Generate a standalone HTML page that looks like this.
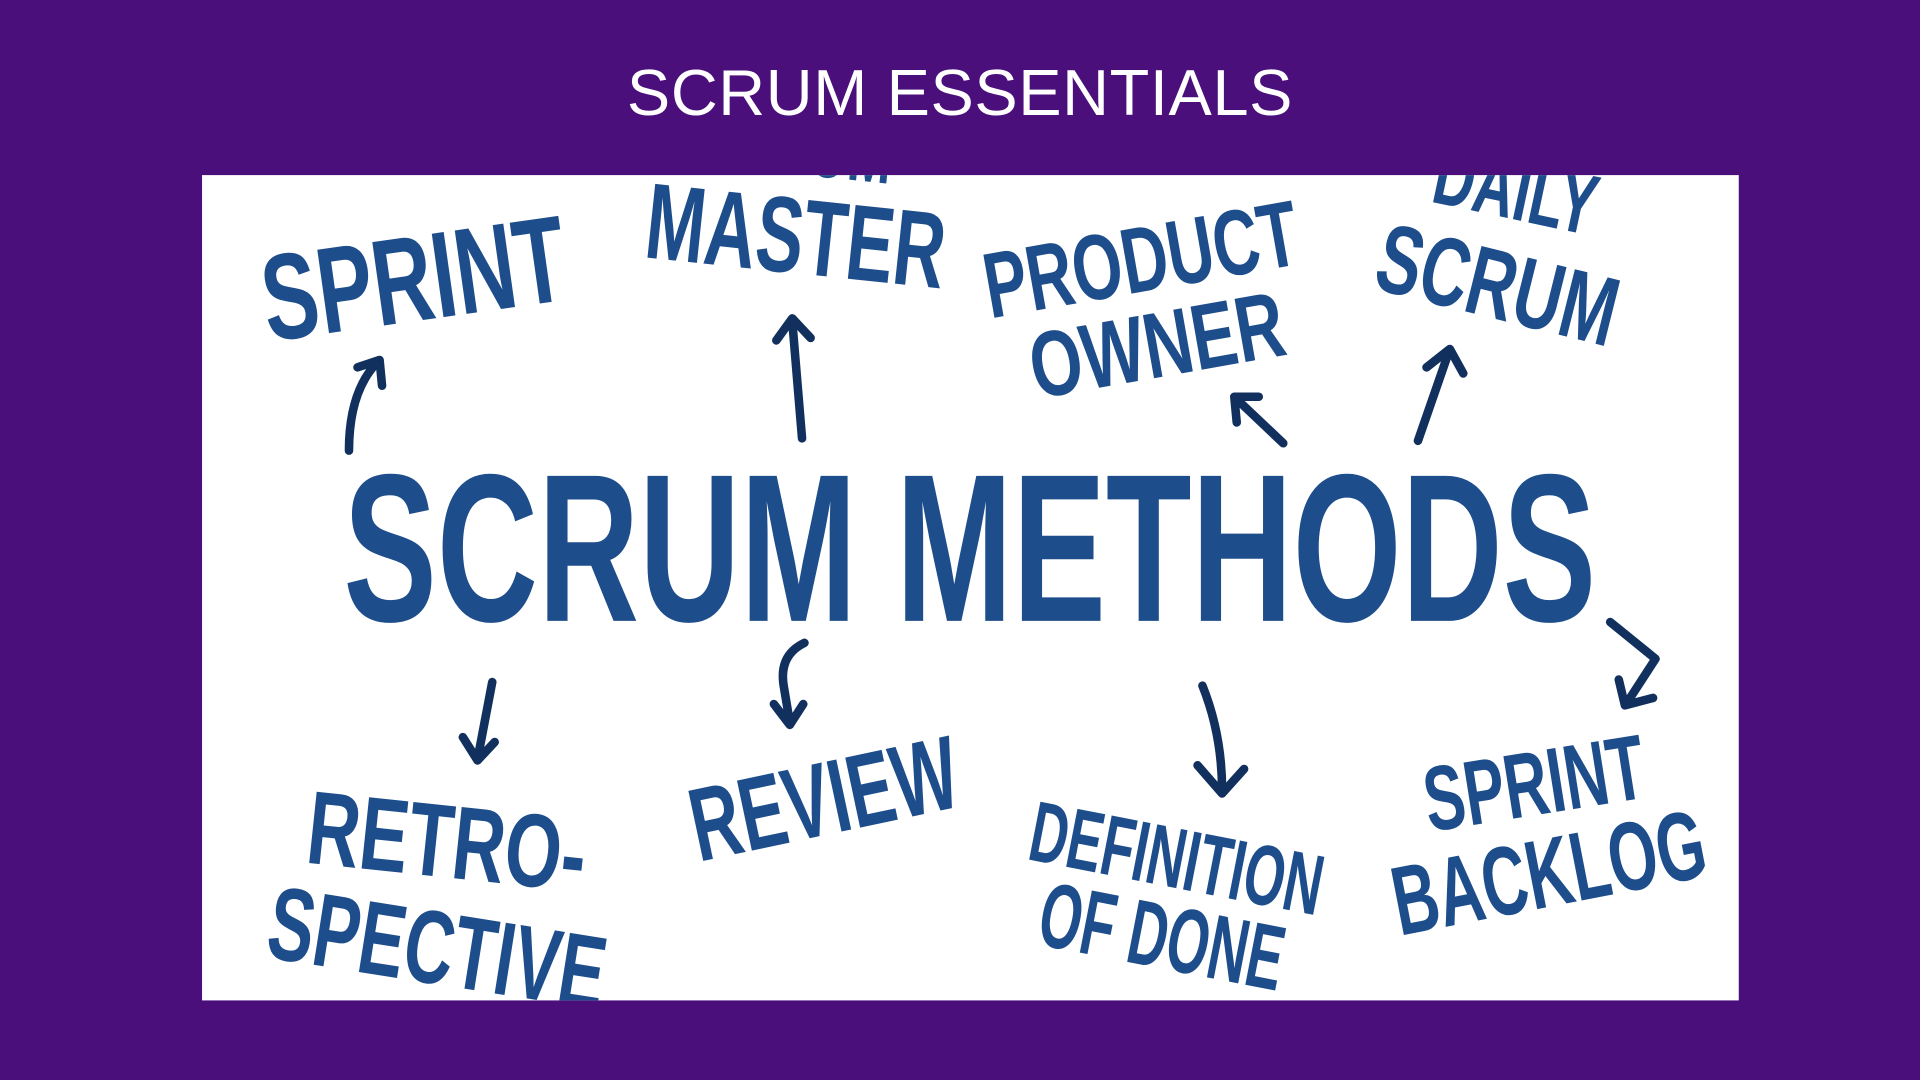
<!DOCTYPE html>
<html><head><meta charset="utf-8"><style>
html,body{margin:0;padding:0;width:1920px;height:1080px;overflow:hidden;background:#4a0f7b;}
#stage{position:absolute;left:0;top:0;width:1568px;height:882px;transform:scale(1.22449);transform-origin:0 0;}
#title{position:absolute;left:0;width:1568px;top:44px;text-align:center;color:#fff;font-family:"Liberation Sans",sans-serif;font-size:53px;line-height:66px;letter-spacing:0.5px;}
#panel{position:absolute;left:165px;top:143px;width:1255px;height:674px;background:#fff;overflow:hidden;}
.w{position:absolute;left:0;top:0;white-space:nowrap;color:#1e4d8c;font-family:"Liberation Sans",sans-serif;font-weight:bold;line-height:1;}
svg{position:absolute;left:0;top:0;}
</style></head><body>
<div id="stage">
<div id="title">SCRUM ESSENTIALS</div>
<div id="panel">
<svg width="1255" height="674">
<g stroke="#12305e" stroke-width="7" fill="none" stroke-linecap="round" stroke-linejoin="round" transform="translate(-165,-143)">
<path d="M285 368 Q285 320 308 296 M292 300 L310 294 L312 315"/>
<path d="M655 358 L647 262 M634 278 L647 260 L662 276"/>
<path d="M1048 362 L1010 326 M1010 345 L1008 324 L1028 324"/>
<path d="M1158 360 L1183 288 M1165 300 L1184 285 L1195 305"/>
<path d="M402 557 L390 620 M378 602 L390 621 L404 606"/>
<path d="M657 525 Q636 535 640 560 L645 590 M632 575 L645 592 L656 575"/>
<path d="M982 560 Q998 600 998 645 M978 625 L998 648 L1016 628"/>
<path d="M1315 508 L1352 538 L1328 575 M1322 555 L1327 576 L1350 570"/>
</g></svg>
<div class="w" style="font-size:100px;transform:translate(173px,85px) translate(-50%,-50%) rotate(-8deg) scaleX(0.68)">SPRINT</div>
<div class="w" style="font-size:70px;transform:translate(485px,-25px) translate(-50%,-50%) rotate(6deg) scaleX(0.62)">SCRUM</div>
<div class="w" style="font-size:88px;transform:translate(485px,50px) translate(-50%,-50%) rotate(6deg) scaleX(0.66)">MASTER</div>
<div class="w" style="font-size:76px;transform:translate(767px,70px) translate(-50%,-50%) rotate(-10deg) scaleX(0.69)">PRODUCT</div>
<div class="w" style="font-size:76px;transform:translate(780px,140px) translate(-50%,-50%) rotate(-10deg) scaleX(0.72)">OWNER</div>
<div class="w" style="font-size:70px;transform:translate(1073px,12px) translate(-50%,-50%) rotate(12deg) scaleX(0.66)">DAILY</div>
<div class="w" style="font-size:80px;transform:translate(1058px,90px) translate(-50%,-50%) rotate(14deg) scaleX(0.68)">SCRUM</div>
<div class="w" style="font-size:172px;transform:translate(627px,305px) translate(-50%,-50%) scaleX(0.665)">SCRUM METHODS</div>
<div class="w" style="font-size:85px;transform:translate(200px,545px) translate(-50%,-50%) rotate(6deg) scaleX(0.7)">RETRO-</div>
<div class="w" style="font-size:85px;transform:translate(192px,632px) translate(-50%,-50%) rotate(9deg) scaleX(0.66)">SPECTIVE</div>
<div class="w" style="font-size:85px;transform:translate(508px,510px) translate(-50%,-50%) rotate(-12deg) scaleX(0.66)">REVIEW</div>
<div class="w" style="font-size:70px;transform:translate(796px,558px) translate(-50%,-50%) rotate(11deg) scaleX(0.61)">DEFINITION</div>
<div class="w" style="font-size:75px;transform:translate(784px,622px) translate(-50%,-50%) rotate(11deg) scaleX(0.59)">OF DONE</div>
<div class="w" style="font-size:75px;transform:translate(1088px,497px) translate(-50%,-50%) rotate(-9deg) scaleX(0.66)">SPRINT</div>
<div class="w" style="font-size:80px;transform:translate(1100px,570px) translate(-50%,-50%) rotate(-11deg) scaleX(0.64)">BACKLOG</div>
</div>
</div>
</body></html>
